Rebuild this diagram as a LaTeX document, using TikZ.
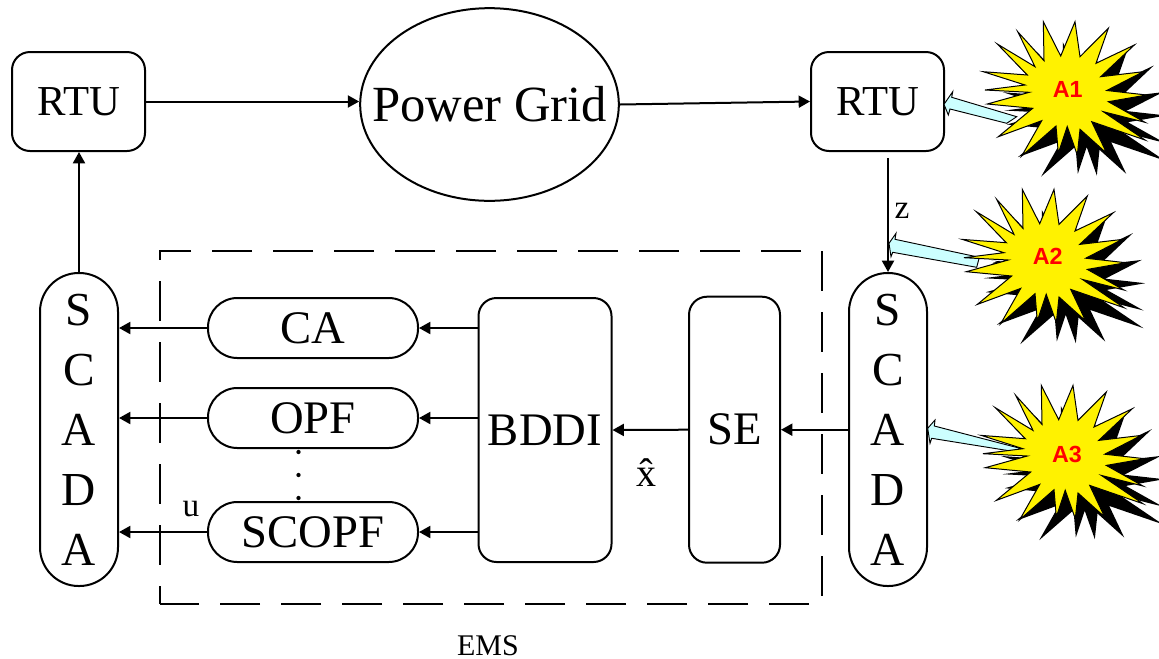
\documentclass[tikz,border=0pt]{standalone}
\usepackage{fontspec}
\setmainfont{Liberation Serif}
\newfontfamily\labelsans{Liberation Sans}
\usetikzlibrary{arrows.meta,shapes.geometric}
\newcommand{\fpx}[2]{\fontsize{#1}{#2}\selectfont}
\newcommand{\burstpath}{(1043.3,21.7)--(1060.7,56)--(1075,21.7)--(1080,56.7)--(1108.3,28.3)--(1096,63.3)--(1134.3,45)--(1100.7,76.7)--(1143.3,71.7)--(1106.7,90.5)--(1146.7,95)--(1108.3,101.7)--(1145,122.3)--(1103.3,111.7)--(1145,140)--(1091.7,121.7)--(1106.7,153.3)--(1080,129.3)--(1077.3,155)--(1067.2,126.5)--(1058.3,153.3)--(1056,126)--(1021.7,156)--(1041.7,120.7)--(998.3,136.7)--(1032.7,108.3)--(987.3,104)--(1029.3,92.3)--(985,90)--(1025,85)--(983.3,71.7)--(1027.3,75)--(997.3,44)--(1035,66.7)--(1017.7,31.7)--(1044,60.7)--cycle}
\definecolor{attackblue}{HTML}{CCFFFF}
\tikzset{
  x=0.75pt,y=-0.75pt,
  line/.style={line width=1.5pt,black},
  link/.style={line,-{Triangle[length=8.5pt,width=9pt]}},
  box/.style={draw,line width=1.5pt,inner sep=0pt,rounded corners=13.5pt,align=center},
  capsule/.style={box,minimum width=157.5pt,minimum height=45pt,rounded corners=22pt,font=\fpx{35}{35}},
  scadabox/.style={box,minimum width=58.5pt,minimum height=234.75pt,rounded corners=29pt,font=\fpx{35.5}{45}},
  tallbox/.style={box,font=\fpx{35}{35}},
  rtubox/.style={box,minimum width=99.75pt,minimum height=74.25pt,font=\fpx{32}{32}},
  small/.style={inner sep=0pt,font=\fpx{25}{25}},
  attack/.style={inner sep=0pt,text=red,font=\labelsans\bfseries\fpx{17.5}{17.5}},
  blockarrow/.style={draw=black,line width=0.7pt,fill=attackblue},
  burstshadow/.style={fill=black,shift={(19.5,20.5)}},
  burstface/.style={draw=black,line width=0.75pt,fill=yellow,line join=miter},
}
\begin{document}
\begin{tikzpicture}
\useasboundingbox (0,0) rectangle (1159,658);
% main blocks
\node[rtubox] (rtuL) at (78.5,101.5) {RTU};
\node[rtubox] (rtuR) at (877.5,101.5) {RTU};
\node[draw,line width=1.5pt,ellipse,minimum width=194pt,minimum height=144.5pt,inner sep=0pt,font=\fpx{38}{38}] (grid) at (489.5,104.5) {\makebox[0pt]{Power Grid}};
\node[scadabox] (scadaL) at (79,429.5) {S\\C\\A\\D\\A};
\node[scadabox] (scadaR) at (888,429.5) {S\\C\\A\\D\\A};
\node[capsule] (ca) at (313,328) {CA};
\node[capsule] (opf) at (313,418) {OPF};
\node[capsule] (scopf) at (313,532) {SCOPF};
\node[tallbox,minimum width=99.75pt,minimum height=198pt] (bddi) at (545,430) {BDDI};
\node[tallbox,minimum width=68.25pt,minimum height=199.5pt] (se) at (734.5,429.7) {SE};
% dashed EMS frame
\coordinate (emsA) at (160,251);
\coordinate (emsB) at (822,604);
\draw[line,dash pattern=on 30pt off 15.75pt] (emsB |- emsA) -- (emsB) -- (emsA |- emsB);
\draw[line,dash pattern=on 30pt off 15.75pt,dash phase=30pt] (emsB |- emsA) -- (emsA) -- (emsA |- emsB);
% connectors
\draw[link] (scadaL.north) -- (scadaL.north |- rtuL.south);
\draw[link] (rtuL.east) -- (grid.west |- rtuL.east);
\draw[link] (grid.east) -- (rtuR.west);
\draw[link,shorten <=4.5pt] (scadaR.north |- rtuR.south) -- (scadaR.north);
\draw[link] (scadaR.west |- se.east) -- (se.east);
\draw[link] (se.west) -- (bddi.east);
\draw[link] (bddi.west |- ca.east) -- (ca.east);
\draw[link] (bddi.west |- opf.east) -- (opf.east);
\draw[link] (bddi.west |- scopf.east) -- (scopf.east);
\draw[link] (ca.west) -- (ca.west -| scadaL.east);
\draw[link] (opf.west) -- (opf.west -| scadaL.east);
\draw[link] (scopf.west) -- (scopf.west -| scadaL.east);
% ellipsis between OPF and SCOPF
\foreach \yy in {452,475,498} \fill (298.5,\yy) circle (1.6pt);
% plain labels
\node[small] (zlab) at (902,211) {z};
\node[small] (ulab) at (191,509) {u};
\node[inner sep=0pt,font=\fpx{30}{30}] (xlab) at (646,473) {\^x};
\node[inner sep=0pt,font=\fpx{22.5}{22.5}] (ems) at (488,646) {EMS};
% attack A1
\draw[blockarrow] (944,104.3)--(952.7,91.7)--(951.7,97.3)--(1016.7,116.7)--(1006.7,123.3)--(950,109)--(948.3,115)--cycle;
\path[burstshadow] \burstpath;
\path[burstface] \burstpath;
% attack A2
\begin{scope}[shift={(-21,167.7)}]
  \path[burstshadow] \burstpath;
\end{scope}
\fill[white] (979.3,257.3) -- (996.7,261.7) -- (976.7,267.3) -- cycle;
\draw[blockarrow] (889,243.3)--(896,233.3)--(895,239.3)--(979.3,257.3)--(976.7,267.3)--(892.7,252.3)--(891,256.7)--cycle;
\begin{scope}[shift={(-21,167.7)}]
  \path[burstface] \burstpath;
\end{scope}
% attack A3
\begin{scope}[shift={(-2,363.7)}]
  \path[burstshadow] \burstpath;
\end{scope}
\draw[blockarrow] (927.7,428.3)--(935,420)--(934.3,426)--(1020,448.3)--(1015,451.7)--(931.7,438.3)--(930,443.3)--cycle;
\begin{scope}[shift={(-2,363.7)}]
  \path[burstface] \burstpath;
\end{scope}
\node[attack] (a1) at (1067.7,89.3) {A1};
\node[attack] (a2) at (1047.7,256) {A2};
\node[attack] (a3) at (1067,454.3) {A3};
\end{tikzpicture}
\end{document}
